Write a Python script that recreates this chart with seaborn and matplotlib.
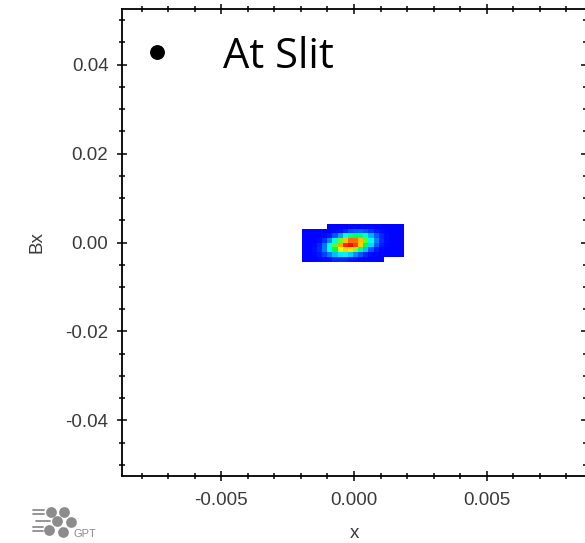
import numpy as np
import pandas as pd
import seaborn as sns
import matplotlib.pyplot as plt
from matplotlib.colors import LinearSegmentedColormap
from matplotlib.ticker import MultipleLocator, FixedLocator, FixedFormatter

# density grid of the beam at the slit (bins in x and Bx)
x_start = -0.00198
x_step = 0.000194
y_start = -0.0043
y_step = 0.00106

# rows from bottom (Bx low) to top, columns from left (x low); 0 = empty bin
density = [
    [0.02, 0.02, 0.03, 0.05, 0.08, 0.10, 0.13, 0.14, 0.13, 0.11, 0.08, 0.05, 0.03, 0.02, 0.02, 0.02, 0, 0, 0, 0],
    [0.02, 0.03, 0.06, 0.11, 0.17, 0.25, 0.33, 0.38, 0.39, 0.35, 0.28, 0.20, 0.13, 0.07, 0.04, 0.02, 0.02, 0.02, 0.02, 0.02],
    [0.02, 0.03, 0.07, 0.14, 0.25, 0.40, 0.55, 0.68, 0.75, 0.73, 0.63, 0.49, 0.33, 0.20, 0.11, 0.05, 0.02, 0.02, 0.02, 0.02],
    [0.02, 0.03, 0.06, 0.13, 0.24, 0.40, 0.60, 0.80, 0.95, 0.99, 0.92, 0.76, 0.55, 0.36, 0.21, 0.11, 0.05, 0.02, 0.02, 0.02],
    [0.02, 0.02, 0.03, 0.07, 0.15, 0.27, 0.43, 0.61, 0.77, 0.87, 0.87, 0.77, 0.60, 0.42, 0.26, 0.14, 0.07, 0.03, 0.02, 0.02],
    [0.02, 0.02, 0.02, 0.03, 0.06, 0.11, 0.20, 0.30, 0.41, 0.49, 0.53, 0.50, 0.43, 0.32, 0.21, 0.13, 0.07, 0.03, 0.02, 0.02],
    [0.02, 0.02, 0.02, 0.02, 0.02, 0.03, 0.06, 0.10, 0.14, 0.19, 0.21, 0.22, 0.20, 0.16, 0.11, 0.07, 0.04, 0.02, 0.02, 0.02],
    [0, 0, 0, 0, 0, 0.02, 0.02, 0.02, 0.03, 0.04, 0.05, 0.06, 0.06, 0.05, 0.04, 0.03, 0.02, 0.02, 0.02, 0.02],
]

x_ticks = [-0.005, 0.0, 0.005]
x_labels = ["-0.005", "0.000", "0.005"]
y_ticks = [-0.04, -0.02, 0.0, 0.02, 0.04]
y_labels = ["-0.04", "-0.02", "0.00", "0.02", "0.04"]

sns.set_style("ticks")
plt.rcParams["font.family"] = ["Liberation Sans", "DejaVu Sans"]

n_rows = len(density)
n_cols = len(density[0])
x_edges = x_start + x_step * np.arange(n_cols + 1)
y_edges = y_start + y_step * np.arange(n_rows + 1)

rows = []
for r in range(n_rows):
    for c in range(n_cols):
        rows.append({"x": (x_edges[c] + x_edges[c + 1]) / 2,
                     "Bx": (y_edges[r] + y_edges[r + 1]) / 2,
                     "w": density[r][c]})
df = pd.DataFrame(rows)

cmap = LinearSegmentedColormap.from_list("beam", [
    (0.0, "#0000ff"), (0.1, "#0010ff"), (0.28, "#0090ff"), (0.4, "#00ffff"),
    (0.55, "#00ff40"), (0.7, "#ffff00"), (0.85, "#ff8000"), (1.0, "#ff0000")])

fig = plt.figure(figsize=(5.85, 5.43), dpi=100)
ax = fig.add_axes([122 / 585, 67 / 543, 464 / 585, 467 / 543])

sns.histplot(data=df, x="x", y="Bx", weights="w", bins=[x_edges, y_edges],
             cmap=cmap, vmin=0, vmax=1, ax=ax)

ax.set_xlim(-0.00875, 0.00875)
ax.set_ylim(-0.0525, 0.0525)
ax.xaxis.set_major_locator(FixedLocator(x_ticks))
ax.xaxis.set_major_formatter(FixedFormatter(x_labels))
ax.yaxis.set_major_locator(FixedLocator(y_ticks))
ax.yaxis.set_major_formatter(FixedFormatter(y_labels))
ax.xaxis.set_minor_locator(MultipleLocator(0.001))
ax.yaxis.set_minor_locator(MultipleLocator(0.005))
ax.tick_params(which="both", direction="inout", top=True, right=True,
               color="black", width=1.1, labelsize=13.5, labelcolor="#3a3a3a")
ax.tick_params(which="major", length=7.5)
ax.tick_params(which="minor", length=4.5)
ax.tick_params(axis="x", pad=8)
ax.tick_params(axis="y", pad=6)
for s in ax.spines.values():
    s.set_color("black")
    s.set_linewidth(1.3)
ax.set_xlabel("x", fontsize=13.5, color="#3a3a3a", labelpad=11)
ax.set_ylabel("Bx", fontsize=13.5, color="#3a3a3a", labelpad=14)

# slide annotation and GPT logo
fig.text(223 / 585, 1 - 68 / 543, "At Slit", fontsize=30, family="Open Sans",
         ha="left", va="baseline", color="black")

deco = fig.add_axes([0, 0, 1, 1], facecolor="none")
deco.set_xlim(0, 585)
deco.set_ylim(543, 0)
deco.axis("off")
deco.scatter([157], [52], marker="o", s=115, color="black", linewidths=0)
logo_x = [51, 64, 57, 71, 49, 63]
logo_y = [512, 512, 521, 522, 530, 532]
deco.scatter(logo_x, logo_y, marker="o", s=60, color="#8c8c8c", linewidths=0)
for lx0, lx1, ly in [(33, 44, 510), (33, 44, 514), (36, 50, 521), (33, 43, 527), (33, 43, 531)]:
    deco.plot([lx0, lx1], [ly, ly], color="#8c8c8c", lw=1.3)
deco.text(73, 537, "GPT", fontsize=8, color="#8c8c8c", va="baseline")

fig.savefig("out.png", dpi=100)
